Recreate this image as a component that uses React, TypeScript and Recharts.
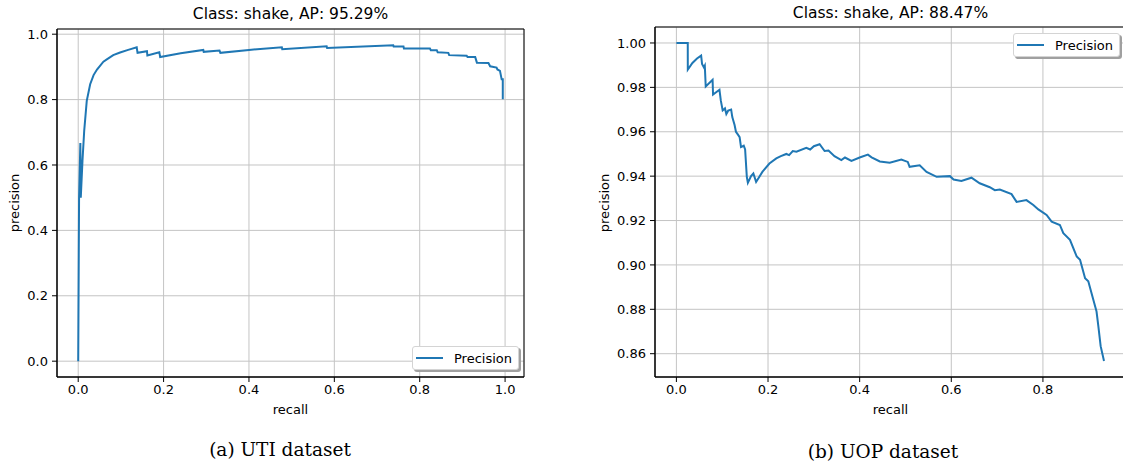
import React from 'react';
import { LineChart, Line, XAxis, YAxis, CartesianGrid, ReferenceArea, Legend } from 'recharts';

// UTI dataset, class "shake"
const utiRecall = [
  0, 0.002, 0.005, 0.006, 0.01, 0.014, 0.02, 0.028, 0.036, 0.044, 0.059, 0.067, 0.082, 0.098, 0.117,
  0.137, 0.139, 0.161, 0.162, 0.19, 0.192, 0.24, 0.293, 0.294, 0.331, 0.333, 0.4, 0.477, 0.478, 0.582,
  0.583, 0.738, 0.739, 0.762, 0.763, 0.824, 0.826, 0.84, 0.842, 0.867, 0.869, 0.91, 0.912, 0.93, 0.934,
  0.961, 0.965, 0.98, 0.982, 0.988, 0.992, 0.9946, 0.9946,
];
const utiPrecision = [
  0, 0.5, 0.667, 0.5, 0.613, 0.704, 0.796, 0.847, 0.875, 0.892, 0.916, 0.923, 0.936, 0.944, 0.952,
  0.96, 0.943, 0.948, 0.935, 0.945, 0.93, 0.942, 0.952, 0.946, 0.95, 0.943, 0.952, 0.96, 0.954, 0.963,
  0.958, 0.966, 0.962, 0.962, 0.956, 0.956, 0.951, 0.951, 0.945, 0.943, 0.936, 0.934, 0.93, 0.93, 0.913,
  0.912, 0.902, 0.898, 0.892, 0.888, 0.862, 0.862, 0.801,
];

// UOP dataset, class "shake"
const uopRecall = [
  0, 0.0248, 0.0249, 0.035, 0.045, 0.054, 0.056, 0.06, 0.062, 0.064, 0.079, 0.08, 0.094, 0.097, 0.101,
  0.106, 0.109, 0.113, 0.1195, 0.122, 0.127, 0.13, 0.134, 0.138, 0.141, 0.147, 0.15, 0.1537, 0.156,
  0.163, 0.168, 0.174, 0.188, 0.203, 0.218, 0.228, 0.24, 0.246, 0.254, 0.262, 0.2835, 0.292, 0.3,
  0.3126, 0.3235, 0.332, 0.345, 0.36, 0.368, 0.382, 0.4, 0.418, 0.426, 0.444, 0.4656, 0.491, 0.505,
  0.509, 0.531, 0.546, 0.568, 0.597, 0.605, 0.622, 0.644, 0.662, 0.684, 0.695, 0.706, 0.7315, 0.7425,
  0.764, 0.779, 0.79, 0.808, 0.819, 0.837, 0.8445, 0.859, 0.8737, 0.881, 0.892, 0.899, 0.91, 0.917,
  0.921, 0.926, 0.9333,
];
const uopPrecision = [
  1, 1, 0.988, 0.991, 0.993, 0.9943, 0.9906, 0.989, 0.9898, 0.9804, 0.9834, 0.9768, 0.9789, 0.974,
  0.9696, 0.9705, 0.968, 0.9695, 0.97, 0.9666, 0.963, 0.96, 0.9588, 0.9576, 0.9531, 0.9537, 0.952,
  0.9397, 0.937, 0.94, 0.9412, 0.9374, 0.942, 0.9457, 0.948, 0.949, 0.95, 0.9495, 0.9513, 0.951,
  0.9528, 0.952, 0.9535, 0.9544, 0.9513, 0.9515, 0.949, 0.9472, 0.9484, 0.9469, 0.9484, 0.9497,
  0.9485, 0.9466, 0.946, 0.9475, 0.9464, 0.9442, 0.9449, 0.9419, 0.9397, 0.94, 0.9385, 0.9378,
  0.9393, 0.9368, 0.935, 0.9337, 0.934, 0.9319, 0.9284, 0.9292, 0.927, 0.925, 0.9225, 0.9195, 0.918,
  0.9143, 0.9113, 0.9038, 0.9023, 0.894, 0.8926, 0.8843, 0.879, 0.8723, 0.8634, 0.8567,
];

const utiXTicks = [0, 0.2, 0.4, 0.6, 0.8, 1.0];
const utiYTicks = [0, 0.2, 0.4, 0.6, 0.8, 1.0];
const uopXTicks = [0, 0.2, 0.4, 0.6, 0.8];
const uopYTicks = [0.86, 0.88, 0.9, 0.92, 0.94, 0.96, 0.98, 1.0];

const titles = ['Class: shake, AP: 95.29%', 'Class: shake, AP: 88.47%'];
const captions = ['(a) UTI dataset', '(b) UOP dataset'];

const FONT = '"DejaVu Sans", sans-serif';
const BLUE = '#1f77b4';

const toRows = (r: number[], p: number[]) => r.map((v, i) => ({ recall: v, precision: p[i] }));

const LegendBox = () => (
  <div
    style={{
      width: 107,
      height: 24,
      boxSizing: 'border-box',
      border: '1px solid #d4d4d4',
      borderRadius: 3,
      background: '#fff',
      boxShadow: '2px 2px 0 #a0a0a0',
      display: 'flex',
      alignItems: 'center',
      paddingLeft: 3,
      fontFamily: FONT,
      fontSize: 13,
      color: '#000',
    }}
  >
    <span style={{ display: 'inline-block', width: 27, borderTop: `2px solid ${BLUE}`, marginRight: 11 }} />
    Precision
  </div>
);

type PanelProps = {
  left: number;
  data: { recall: number; precision: number }[];
  xDomain: [number, number];
  yDomain: [number, number];
  xTicks: number[];
  yTicks: number[];
  yDigits: number;
  margin: { top: number; right: number; bottom: number; left: number };
  yWidth: number;
  legendPos: { left: number; top: number };
};

const Panel = ({ left, data, xDomain, yDomain, xTicks, yTicks, yDigits, margin, yWidth, legendPos }: PanelProps) => (
  <div style={{ position: 'absolute', left, top: 0 }}>
    <LineChart width={560} height={420} data={data} margin={margin}>
      <CartesianGrid stroke="#c4c4c4" strokeWidth={1} />
      <XAxis
        dataKey="recall"
        type="number"
        domain={xDomain}
        ticks={xTicks}
        allowDataOverflow
        height={30}
        tickFormatter={(v: number) => v.toFixed(1)}
        tick={{ fill: '#000', fontSize: 13, fontFamily: FONT }}
        tickSize={5}
        tickMargin={3}
        stroke="#000"
      />
      <YAxis
        type="number"
        domain={yDomain}
        ticks={yTicks}
        allowDataOverflow
        width={yWidth}
        tickFormatter={(v: number) => v.toFixed(yDigits)}
        tick={{ fill: '#000', fontSize: 13, fontFamily: FONT }}
        tickSize={5}
        tickMargin={4}
        stroke="#000"
      />
      <ReferenceArea
        x1={xDomain[0]}
        x2={xDomain[1]}
        y1={yDomain[0]}
        y2={yDomain[1]}
        fill="none"
        fillOpacity={0}
        stroke="#000"
        strokeWidth={1}
        strokeOpacity={1}
      />
      <Line
        type="linear"
        dataKey="precision"
        name="Precision"
        stroke={BLUE}
        strokeWidth={2}
        dot={false}
        isAnimationActive={false}
      />
      <Legend
        layout="vertical"
        align="center"
        verticalAlign="middle"
        content={() => <LegendBox />}
        wrapperStyle={{ position: 'absolute', left: legendPos.left, top: legendPos.top, width: 'auto' }}
      />
    </LineChart>
  </div>
);

const textBase: React.CSSProperties = { position: 'absolute', fontFamily: FONT, color: '#000', whiteSpace: 'nowrap' };

export default function App() {
  return (
    <div
      style={{
        position: 'absolute',
        left: 0,
        top: 0,
        width: 1123,
        height: 465,
        overflow: 'hidden',
        background: '#fff',
      }}
    >
      <Panel
        left={0}
        data={toRows(utiRecall, utiPrecision)}
        xDomain={[-0.0497, 1.0443]}
        yDomain={[-0.0484, 1.0159]}
        xTicks={utiXTicks}
        yTicks={utiYTicks}
        yDigits={1}
        margin={{ top: 29, right: 36, bottom: 13, left: 17 }}
        yWidth={40}
        legendPos={{ left: 412, top: 346 }}
      />
      <Panel
        left={580}
        data={toRows(uopRecall, uopPrecision)}
        xDomain={[-0.0467, 0.98]}
        yDomain={[0.8495, 1.0072]}
        xTicks={uopXTicks}
        yTicks={uopYTicks}
        yDigits={2}
        margin={{ top: 27, right: 14.6, bottom: 13, left: 25 }}
        yWidth={50}
        legendPos={{ left: 433, top: 33 }}
      />

      <div style={{ ...textBase, left: 57, width: 467, top: 5, textAlign: 'center', fontSize: 15.5, lineHeight: '18px' }}>
        {titles[0]}
      </div>
      <div style={{ ...textBase, left: 655, width: 471, top: 4, textAlign: 'center', fontSize: 15.5, lineHeight: '18px' }}>
        {titles[1]}
      </div>

      <div style={{ ...textBase, left: 57, width: 467, top: 402, textAlign: 'center', fontSize: 13, lineHeight: '16px' }}>
        recall
      </div>
      <div style={{ ...textBase, left: 655, width: 471, top: 402, textAlign: 'center', fontSize: 13, lineHeight: '16px' }}>
        recall
      </div>
      <div
        style={{
          ...textBase,
          left: 15,
          top: 203,
          fontSize: 13,
          lineHeight: '16px',
          transform: 'translate(-50%, -50%) rotate(-90deg)',
        }}
      >
        precision
      </div>
      <div
        style={{
          ...textBase,
          left: 605,
          top: 203,
          fontSize: 13,
          lineHeight: '16px',
          transform: 'translate(-50%, -50%) rotate(-90deg)',
        }}
      >
        precision
      </div>

      <div
        style={{
          ...textBase,
          left: 180,
          width: 200,
          top: 439,
          textAlign: 'center',
          fontFamily: '"DejaVu Serif", serif',
          fontSize: 18.5,
          lineHeight: '22px',
        }}
      >
        {captions[0]}
      </div>
      <div
        style={{
          ...textBase,
          left: 783,
          width: 200,
          top: 441,
          textAlign: 'center',
          fontFamily: '"DejaVu Serif", serif',
          fontSize: 18.5,
          lineHeight: '22px',
        }}
      >
        {captions[1]}
      </div>
    </div>
  );
}
